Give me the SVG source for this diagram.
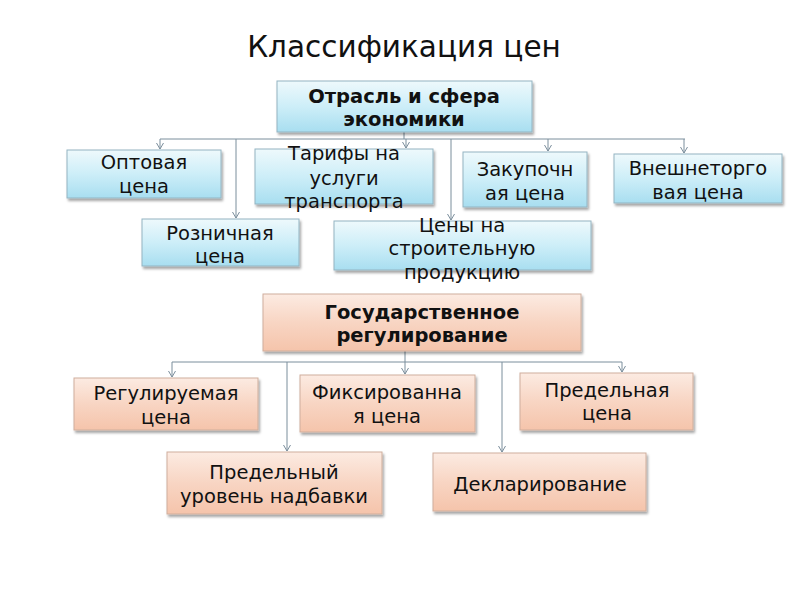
<svg xmlns="http://www.w3.org/2000/svg" width="800" height="600" viewBox="0 0 800 600">
<defs>
<linearGradient id="gb" x1="0" y1="0" x2="0" y2="1">
<stop offset="0" stop-color="#eef9fc"/>
<stop offset="0.5" stop-color="#cdeef8"/>
<stop offset="1" stop-color="#a8def0"/>
</linearGradient>
<linearGradient id="gp" x1="0" y1="0" x2="0" y2="1">
<stop offset="0" stop-color="#fcebe2"/>
<stop offset="0.5" stop-color="#f8d5c3"/>
<stop offset="1" stop-color="#f5c4ab"/>
</linearGradient>
<filter id="sh" x="-5%" y="-5%" width="115%" height="130%">
<feDropShadow dx="1.5" dy="2.5" stdDeviation="1" flood-color="#000" flood-opacity="0.35"/>
</filter>
<marker id="ar" markerWidth="10" markerHeight="10" refX="5" refY="8" orient="0" markerUnits="userSpaceOnUse" viewBox="0 0 10 10">
<path d="M1.5,2 L5,8 L8.5,2" fill="none" stroke="#7b8e9c" stroke-width="1"/>
</marker>
</defs>
<style>
.b{fill:url(#gb);stroke:#93b4c2;stroke-width:1;filter:url(#sh)}
.p{fill:url(#gp);stroke:#cfae9d;stroke-width:1;filter:url(#sh)}
text{font-family:"DejaVu Sans","Liberation Sans",sans-serif;fill:#111;text-anchor:middle}
.t{font-size:19.5px}
.bd{font-size:19.5px;font-weight:bold}
.c{fill:none;stroke:#7b8e9c;stroke-width:1}
.a{marker-end:url(#ar)}
</style>
<rect width="800" height="600" fill="#fff"/>
<text x="404" y="57" style="font-size:29.5px">Классификация цен</text>

<g id="connectors">
<path class="c" d="M404,132 V139 M160,139 H685"/>
<path class="c a" d="M160,139 V149"/>
<path class="c a" d="M236,139 V218"/>
<path class="c a" d="M406,139 V148"/>
<path class="c a" d="M451,139 V220"/>
<path class="c a" d="M548,139 V151"/>
<path class="c a" d="M684,139 V153"/>
<path class="c" d="M405,351 V362 M172,362 H622"/>
<path class="c a" d="M172,362 V377"/>
<path class="c a" d="M287,362 V451"/>
<path class="c a" d="M405,362 V374"/>
<path class="c a" d="M502,362 V452"/>
<path class="c a" d="M622,362 V372"/>
</g>

<g id="n-otrasl"><rect class="b" x="277" y="81" width="255" height="51"/>
<text class="bd" x="404" y="103">Отрасль и сфера</text><text class="bd" x="404" y="126">экономики</text></g>

<g id="n-optovaya"><rect class="b" x="67" y="150" width="154" height="48"/>
<text class="t" x="144" y="169">Оптовая</text><text class="t" x="144" y="193">цена</text></g>

<g id="n-tarify"><rect class="b" x="255" y="149" width="178" height="55"/>
<text class="t" x="344" y="160">Тарифы на</text><text class="t" x="344" y="185">услуги</text><text class="t" x="344" y="208">транспорта</text></g>

<g id="n-zakup"><rect class="b" x="463" y="152" width="124" height="55"/>
<text class="t" x="525" y="176">Закупочн</text><text class="t" x="525" y="200">ая цена</text></g>

<g id="n-vnesh"><rect class="b" x="614" y="154" width="168" height="49"/>
<text class="t" x="698" y="175">Внешнеторго</text><text class="t" x="698" y="199">вая цена</text></g>

<g id="n-roznich"><rect class="b" x="142" y="219" width="157" height="47"/>
<text class="t" x="220" y="240">Розничная</text><text class="t" x="220" y="263">цена</text></g>

<g id="n-stroit"><rect class="b" x="334" y="221" width="257" height="49"/>
<text class="t" x="462" y="232">Цены на</text><text class="t" x="462" y="255">строительную</text><text class="t" x="462" y="279">продукцию</text></g>

<g id="n-gos"><rect class="p" x="263" y="294" width="318" height="57"/>
<text class="bd" x="422" y="319">Государственное</text><text class="bd" x="422" y="342">регулирование</text></g>

<g id="n-regul"><rect class="p" x="74" y="378" width="184" height="52"/>
<text class="t" x="166" y="400">Регулируемая</text><text class="t" x="166" y="424">цена</text></g>

<g id="n-fiks"><rect class="p" x="300" y="375" width="175" height="57"/>
<text class="t" x="387" y="399">Фиксированна</text><text class="t" x="387" y="423">я цена</text></g>

<g id="n-pred"><rect class="p" x="520" y="373" width="173" height="57"/>
<text class="t" x="607" y="397">Предельная</text><text class="t" x="607" y="420">цена</text></g>

<g id="n-nadb"><rect class="p" x="167" y="452" width="215" height="62"/>
<text class="t" x="274" y="479">Предельный</text><text class="t" x="274" y="503">уровень надбавки</text></g>

<g id="n-dekl"><rect class="p" x="433" y="453" width="213" height="58"/>
<text class="t" x="540" y="491">Декларирование</text></g>
</svg>
